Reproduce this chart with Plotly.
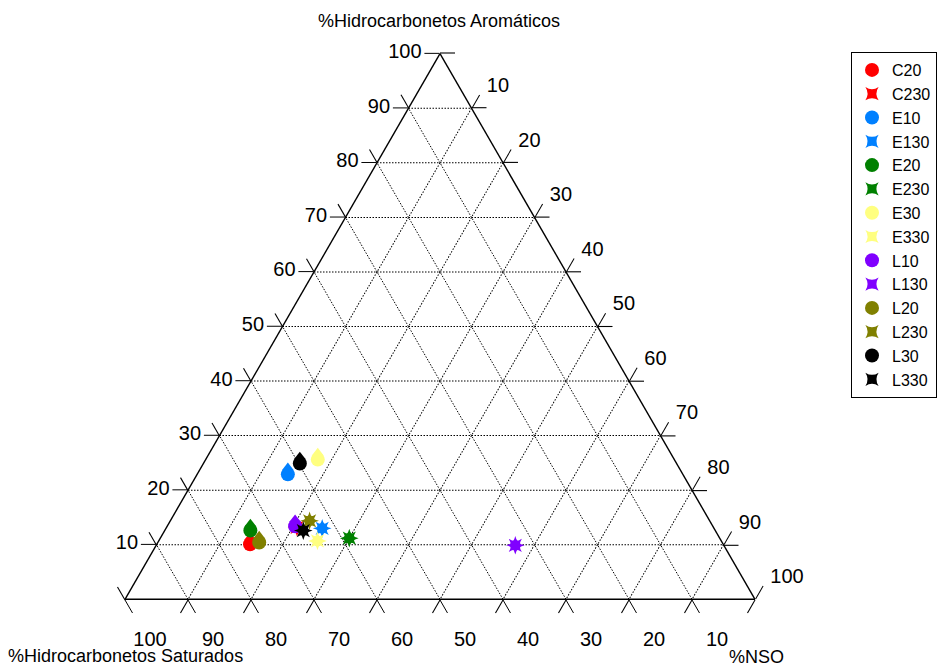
import math
import plotly.graph_objects as go

# ---- data ----
names = ["C20", "C230", "E10", "E130", "E20", "E230", "E30", "E330",
         "L10", "L130", "L20", "L230", "L30", "L330"]
aromaticos = [10.1, 13.2, 22.9, 13.0, 12.6, 11.2, 25.6, 10.7, 13.4, 9.9, 10.4, 14.4, 24.9, 12.6]
saturados = [75.1, 66.1, 62.7, 62.2, 73.8, 58.8, 56.6, 64.1, 66.3, 33.1, 73.5, 63.5, 59.8, 65.4]
nso = [14.8, 20.7, 14.4, 24.8, 13.6, 30.0, 17.8, 25.2, 20.3, 57.0, 16.1, 22.1, 15.3, 22.0]
shapes_kind = ["drop", "star"] * 7
colors = ["#FF0000", "#FF0000", "#0080FF", "#0080FF", "#008000", "#008000",
          "#FFFF80", "#FFFF80", "#8000FF", "#8000FF", "#808000", "#808000",
          "#000000", "#000000"]
tick_values = [10, 20, 30, 40, 50, 60, 70, 80, 90, 100]

FONT = "Liberation Sans, Arial, sans-serif"
W, H = 943, 666
# triangle placement (page pixels)
x0, x1, ytop, ybot = 125, 755, 53, 600
TICK = 15
CLEAR = "rgba(0,0,0,0)"

fig = go.Figure()
for i, nm in enumerate(names):
    a, b, c = [aromaticos[i]], [saturados[i]], [nso[i]]
    col = colors[i]
    if shapes_kind[i] == "drop":
        fig.add_trace(go.Scatterternary(
            a=a, b=b, c=c, mode="markers", name=nm, legendgroup=nm,
            marker=dict(symbol="circle", size=14, color=col, line=dict(width=0))))
        fig.add_trace(go.Scatterternary(
            a=a, b=b, c=c, mode="markers", name=nm, legendgroup=nm, showlegend=False,
            marker=dict(symbol="triangle-down", angle=180, standoff=6.5, size=10.6,
                        color=col, line=dict(width=0))))
    else:
        fig.add_trace(go.Scatterternary(
            a=a, b=b, c=c, mode="markers", name=nm, legendgroup=nm,
            marker=dict(symbol="star-square", size=12, color=col, line=dict(width=0))))
        fig.add_trace(go.Scatterternary(
            a=a, b=b, c=c, mode="markers", name=nm, legendgroup=nm, showlegend=False,
            marker=dict(symbol="star-square", angle=45, size=12, color=col, line=dict(width=0))))

# empty traces that create the overlay subplots carrying the b / c tick labels
for sp in ["ternary2", "ternary3"]:
    fig.add_trace(go.Scatterternary(a=[], b=[], c=[], subplot=sp, showlegend=False,
                                    hoverinfo="skip"))


def axis(ticklen=TICK, tickcolor="black", labels=True, grid=True, line=True, ticks=True):
    return dict(
        min=0,
        tickmode="array", tickvals=tick_values,
        ticks="outside" if ticks else "", ticklen=ticklen, tickwidth=1.1,
        tickcolor=tickcolor,
        showline=line, linecolor="black" if line else CLEAR, linewidth=1.4,
        showgrid=grid, gridcolor="black", gridwidth=1.2, griddash="1.5px,1.5px",
        showticklabels=labels,
        tickfont=dict(family=FONT, size=20, color="black"),
        title=dict(text=""),
        layer="below traces",
    )


def dom(dx=0.0, dy=0.0):
    return dict(x=[(x0 + dx) / W, (x1 + dx) / W],
                y=[1 - (ybot + dy) / H, 1 - (ytop + dy) / H])


hidden = axis(labels=False, grid=False, line=False, ticks=False)

# other-end extensions of each grid line (mirror ticks), from the triangle geometry
A = (440.0, ytop)
B = (float(x0), ybot)
C = (float(x1), ybot)
s30, c30 = 0.5, math.sqrt(3) / 2
ext = []
for v in tick_values:
    f = v / 100.0
    # a-line, right end -> horizontal to the right
    px = C[0] + f * (A[0] - C[0]); py = C[1] + f * (A[1] - C[1])
    ext.append((px, py, px + TICK, py))
    # b-line, left end -> up-left
    px = B[0] + (1 - f) * (A[0] - B[0]); py = B[1] + (1 - f) * (A[1] - B[1])
    ext.append((px, py, px - s30 * TICK, py - c30 * TICK))
    # c-line, bottom end -> down-left
    px = B[0] + f * (C[0] - B[0]); py = B[1]
    ext.append((px, py, px - s30 * TICK, py + c30 * TICK))

shapes = [dict(type="line", xref="paper", yref="paper",
               x0=p[0] / W, y0=1 - p[1] / H, x1=p[2] / W, y1=1 - p[3] / H,
               line=dict(color="black", width=1.1)) for p in ext]

fig.update_layout(
    width=W, height=H,
    margin=dict(l=0, r=0, t=0, b=0, autoexpand=False),
    paper_bgcolor="white",
    font=dict(family=FONT, color="black"),
    ternary=dict(
        sum=100, bgcolor="white", domain=dom(),
        aaxis=axis(),
        baxis=axis(labels=False),
        caxis=axis(labels=False),
    ),
    # c-axis labels, pushed further out along the ticks
    ternary2=dict(
        sum=100, bgcolor=CLEAR, domain=dom(),
        aaxis=hidden, baxis=hidden,
        caxis=axis(ticklen=24, tickcolor=CLEAR, grid=False, line=False),
    ),
    # b-axis labels, set down-right of the ticks as in the reference
    ternary3=dict(
        sum=100, bgcolor=CLEAR, domain=dom(13, 0),
        aaxis=hidden, caxis=hidden,
        baxis=axis(ticklen=24, tickcolor=CLEAR, grid=False, line=False),
    ),
    shapes=shapes,
    showlegend=True,
    legend=dict(
        x=851 / W, y=1 - 52 / H, xanchor="left", yanchor="top",
        bordercolor="black", borderwidth=1, bgcolor="white",
        font=dict(family=FONT, size=16, color="black"),
        tracegroupgap=0,
    ),
    annotations=[
        dict(text="%Hidrocarbonetos Aromáticos", x=439 / W, y=1 - 21 / H,
             xref="paper", yref="paper", showarrow=False,
             font=dict(family=FONT, size=18), xanchor="center", yanchor="middle"),
        dict(text="%Hidrocarbonetos Saturados", x=6 / W, y=1 - 656 / H,
             xref="paper", yref="paper", showarrow=False,
             font=dict(family=FONT, size=18), xanchor="left", yanchor="middle"),
        dict(text="%NSO", x=727 / W, y=1 - 657 / H,
             xref="paper", yref="paper", showarrow=False,
             font=dict(family=FONT, size=18), xanchor="left", yanchor="middle"),
    ],
)

fig.write_html("out.html", config={"displayModeBar": False},
               post_script="document.body.style.margin='0px';")
